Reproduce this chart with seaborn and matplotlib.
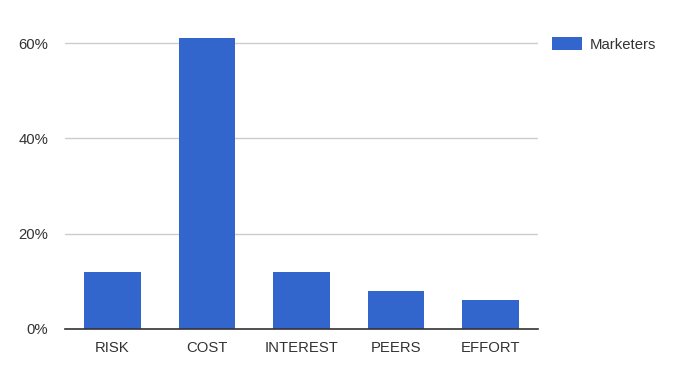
import matplotlib
matplotlib.use("Agg")
import matplotlib.pyplot as plt
import seaborn as sns
import pandas as pd
from matplotlib.patches import Patch
from matplotlib.ticker import FuncFormatter

categories = ["RISK", "COST", "INTEREST", "PEERS", "EFFORT"]
marketers = [12, 61, 12, 8, 6]
y_ticks = [0, 20, 40, 60]
series_name = "Marketers"

sns.set_theme(style="white")
plt.rcParams["font.family"] = ["Liberation Sans", "DejaVu Sans"]

W, H = 675, 391
fig = plt.figure(figsize=(W / 100, H / 100), dpi=100)
left, right, top, bottom = 65, 538, 30, 329
ax = fig.add_axes([left / W, 1 - bottom / H, (right - left) / W, (bottom - top) / H])

df = pd.DataFrame({"category": categories, "value": marketers})
sns.barplot(data=df, x="category", y="value", color="#3366CC", saturation=1,
            width=0.6, ax=ax, edgecolor="none")

ax.set_xlim(-0.5, len(categories) - 0.5)
ax.set_ylim(0, 60 * (bottom - top) / (bottom - 43))
ax.set_yticks(y_ticks)
ax.yaxis.set_major_formatter(FuncFormatter(lambda v, p: f"{int(v)}%"))
ax.set_xlabel("")
ax.set_ylabel("")
for s in ["top", "right", "left"]:
    ax.spines[s].set_visible(False)
ax.spines["bottom"].set_color("#333333")
ax.spines["bottom"].set_linewidth(1.2)
ax.grid(axis="y", color="#cccccc", linewidth=1)
ax.set_axisbelow(True)
ax.tick_params(axis="both", length=0, labelsize=10.7, colors="#333333")
ax.tick_params(axis="y", pad=12)
ax.tick_params(axis="x", pad=9)

fig.legend(handles=[Patch(facecolor="#3366CC", edgecolor="none", label=series_name)],
           loc="upper left", bbox_to_anchor=(552 / W, 1 - 37 / H),
           frameon=False, fontsize=10.7, handlelength=2.0, handleheight=1.0,
           handletextpad=0.55, borderpad=0, borderaxespad=0, labelcolor="#333333")

fig.savefig("out.png", dpi=100)
